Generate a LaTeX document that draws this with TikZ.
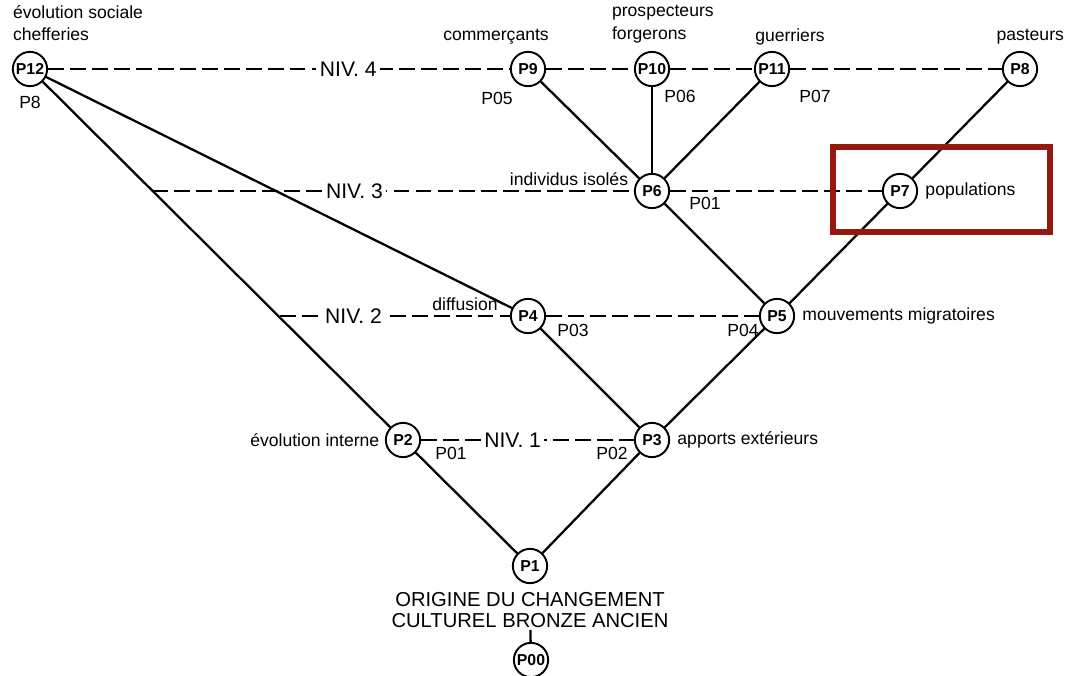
\documentclass[tikz,border=0pt]{standalone}
\usepackage{fontspec}
\setmainfont{Liberation Sans}
\usepackage{xcolor}
\usepackage{tikz}
\usetikzlibrary{positioning,calc}

\definecolor{boxred}{RGB}{150,25,15}

\begin{document}
\begin{tikzpicture}[
  x=0.02cm, y=-0.02cm,
  every node/.style={font=\fontsize{10}{13}\selectfont},
  pnt/.style={circle, draw, line width=1.1pt, fill=white,
              minimum size=19.5pt, inner sep=0pt,
              font=\bfseries\fontsize{9}{10}\selectfont},
  lbl/.style={inner sep=1pt},
  niv/.style={font=\fontsize{12}{14}\selectfont, fill=white, inner sep=2pt},
  lnk/.style={line width=1.3pt},
  lvl/.style={line width=1.3pt, dash pattern=on 9pt off 3.5pt}
]
\useasboundingbox (0,0) rectangle (1066,676);

%% positions
\node[pnt] (P12) at (30,69)   {P12};
\node[pnt] (P9)  at (528,69)  {P9};
\node[pnt] (P10) at (652,69)  {P10};
\node[pnt] (P11) at (772,69)  {P11};
\node[pnt] (P8)  at (1020,69) {P8};
\node[pnt] (P6)  at (652,191) {P6};
\node[pnt] (P7)  at (900,191) {P7};
\node[pnt] (P4)  at (528,316) {P4};
\node[pnt] (P5)  at (777,316) {P5};
\node[pnt] (P2)  at (403,440) {P2};
\node[pnt] (P3)  at (652,440) {P3};
\node[pnt] (P1)  at (530,566) {P1};
\node[pnt] (P00) at (531,660) {P00};

\coordinate (n3) at (152,191);
\coordinate (n2) at (280,316);

%% solid links
\draw[lnk] (P12) -- (P2);
\draw[lnk] (P12) -- (P4);
\draw[lnk] (P9)  -- (P6);
\draw[lnk] (P10) -- (P6);
\draw[lnk] (P11) -- (P6);
\draw[lnk] (P8)  -- (P7);
\draw[lnk] (P7)  -- (P5);
\draw[lnk] (P6)  -- (P5);
\draw[lnk] (P4)  -- (P3);
\draw[lnk] (P5)  -- (P3);
\draw[lnk] (P2)  -- (P1);
\draw[lnk] (P3)  -- (P1);

%% levels
\draw[lvl] (P12) -- node[niv, pos=0.65]{NIV. 4} (P9);
\draw[lvl] (P9)  -- (P10);
\draw[lvl] (P10) -- (P11);
\draw[lvl] (P11) -- (P8);
\draw[lvl] (n3)  -- node[niv, pos=0.42]{NIV. 3} (P6);
\draw[lvl] (P6)  -- (P7);
\draw[lvl] (n2)  -- node[niv, pos=0.32]{NIV. 2} (P4);
\draw[lvl] (P4)  -- (P5);
\draw[lvl] (P2)  -- node[niv, pos=0.43]{NIV. 1} (P3);

%% labels
\node[lbl, align=left, anchor=north west] (soc) at (11,3)
     {évolution sociale\\chefferies};
\node[lbl, below=4pt of P12] (p12b) {P8};
\node[lbl] (com)  at (496,37)  {commerçants};
\node[lbl, align=left, anchor=north west] (pro) at (610,3)
     {prospecteurs\\forgerons};
\node[lbl] (gue)  at (790,37)  {guerriers};
\node[lbl, anchor=east] (pas) at (1066,37) {pasteurs};
\node[lbl] (p05)  at (497,98)  {P05};
\node[lbl] (p06)  at (680,96)  {P06};
\node[lbl] (p07)  at (815,96)  {P07};
\node[lbl] (iso)  at (569,179) {individus isolés};
\node[lbl] (p01a) at (705,203) {P01};
\node[lbl, right=3pt of P7] (popu) {populations};
\node[lbl] (dif)  at (465,304) {diffusion};
\node[lbl] (p03)  at (573,330) {P03};
\node[lbl] (p04)  at (743,330) {P04};
\node[lbl, right=3pt of P5] (mig) {mouvements migratoires};
\node[lbl, left=2pt of P2] (int) {évolution interne};
\node[lbl] (p01b) at (451,453) {P01};
\node[lbl] (p02)  at (612,453) {P02};
\node[lbl, right=3pt of P3] (ext) {apports extérieurs};
\node[lbl, align=center, font=\fontsize{11.5}{12}\selectfont] (ori) at (530,610)
     {ORIGINE DU CHANGEMENT\\CULTUREL BRONZE ANCIEN};

\draw[lnk] (ori) -- (P00);

%% highlight
\draw[boxred, line width=3.4pt] (833,147) rectangle (1050,232);

\end{tikzpicture}
\end{document}
